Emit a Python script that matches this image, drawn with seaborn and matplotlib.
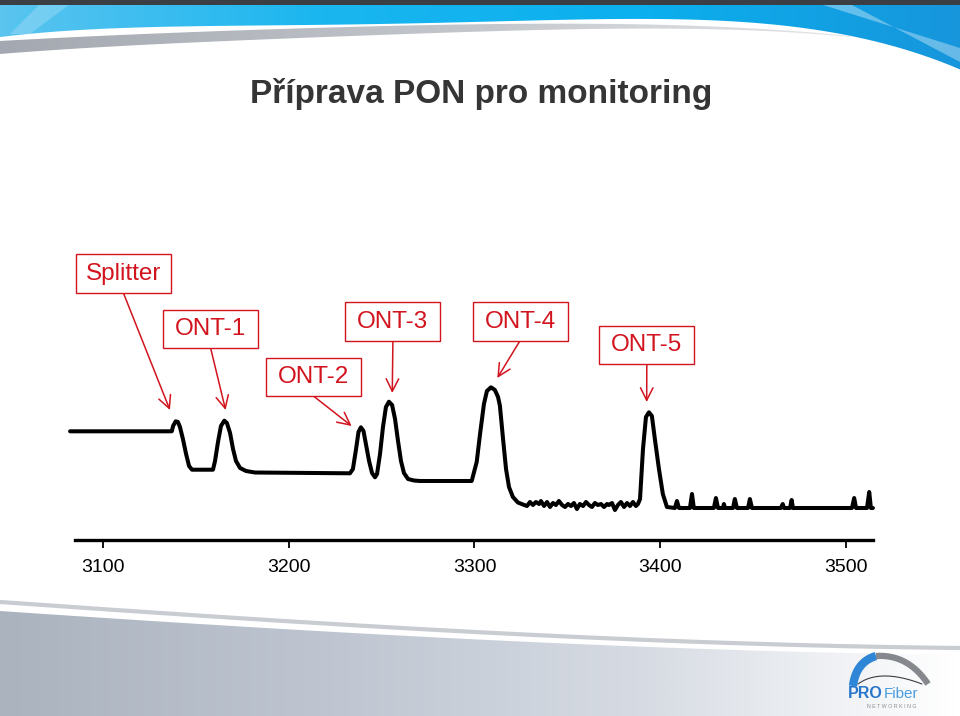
import numpy as np
import pandas as pd
import matplotlib
matplotlib.use("Agg")
import matplotlib.pyplot as plt
import seaborn as sns
from matplotlib.patches import Rectangle, Polygon
from matplotlib.colors import LinearSegmentedColormap

# OTDR trace: distance [m] vs relative level [dB]
distance = [3082.1, 3136.9, 3137.6, 3139.0, 3140.2, 3141.3, 3142.9, 3144.6, 3146.2, 3147.8,
            3159.1, 3160.2, 3161.8, 3163.4, 3165.2, 3166.6, 3168.3, 3169.9, 3171.5, 3173.7,
            3176.9, 3181.7, 3232.9, 3234.5, 3236.2, 3237.5, 3238.8, 3240.2, 3241.5, 3243.2,
            3244.8, 3246.4, 3247.5, 3249.1, 3250.7, 3252.3, 3253.9, 3255.6, 3257.2, 3258.8,
            3260.4, 3262.0, 3264.2, 3267.4, 3270.6, 3298.5, 3301.2, 3303.0, 3305.1, 3306.7,
            3308.9, 3311.0, 3312.7, 3313.7, 3315.4, 3317.0, 3318.6, 3320.7, 3323.4, 3326.1,
            3328.3, 3329.9, 3331.5, 3333.1, 3334.8, 3335.8, 3337.5, 3339.1, 3340.7, 3342.3,
            3343.9, 3345.5, 3347.2, 3348.8, 3350.4, 3352.0, 3353.6, 3355.2, 3356.8, 3358.5,
            3360.1, 3361.7, 3363.3, 3364.9, 3366.5, 3368.2, 3369.8, 3371.4, 3372.5, 3374.1,
            3375.7, 3377.3, 3378.9, 3380.6, 3382.2, 3383.8, 3385.4, 3387.0, 3388.1,
            3389.2, 3390.8, 3392.4, 3394.0, 3395.6, 3397.2, 3399.4, 3401.5, 3403.7,
            3408.0, 3409.1, 3410.2, 3416.1, 3417.2, 3418.2, 3429.0, 3430.1, 3431.2,
            3433.9, 3434.4, 3435.0, 3439.3, 3440.3, 3441.4, 3447.4, 3448.4, 3449.5,
            3465.1, 3466.1, 3466.8, 3470.0, 3470.9, 3471.6, 3503.4, 3504.6, 3505.6,
            3511.5, 3512.7, 3513.6, 3514.7]
level = [10.87, 10.87, 11.4, 11.87, 11.8, 11.3, 10.1, 8.6, 7.4, 7.03,
         7.03, 7.9, 9.8, 11.4, 11.93, 11.7, 10.7, 9.1, 7.9, 7.2,
         6.9, 6.75, 6.67, 7.1, 9.1, 10.8, 11.27, 10.9, 9.6, 7.9,
         6.7, 6.27, 6.6, 8.6, 11.3, 13.3, 13.83, 13.5, 12.1, 9.9,
         7.9, 6.7, 6.1, 5.95, 5.9, 5.9, 7.8, 10.6, 13.6, 14.9,
         15.27, 15.0, 14.3, 13.43, 10.1, 7.1, 5.3, 4.3, 3.75, 3.55,
         3.4, 3.8, 3.5, 3.8, 3.6, 3.9, 3.4, 3.8, 3.3, 3.7,
         3.5, 3.9, 3.5, 3.3, 3.6, 3.4, 3.7, 3.1, 3.6, 3.4,
         3.8, 3.5, 3.3, 3.7, 3.5, 3.6, 3.3, 3.6, 3.5, 3.7,
         3.0, 3.5, 3.8, 3.3, 3.7, 3.4, 3.8, 3.4, 3.6,
         4.1, 9.1, 12.3, 12.77, 12.4, 10.1, 7.1, 4.6, 3.3,
         3.2, 3.9, 3.2, 3.2, 4.6, 3.2, 3.2, 4.2, 3.2,
         3.2, 3.6, 3.2, 3.2, 4.1, 3.2, 3.2, 4.1, 3.2,
         3.2, 3.6, 3.2, 3.2, 4.0, 3.2, 3.2, 4.2, 3.2,
         3.2, 4.8, 3.2, 3.2]

event_names = ["Splitter", "ONT-1", "ONT-2", "ONT-3", "ONT-4", "ONT-5"]
event_dist = [3135.9, 3165.9, 3233.8, 3255.7, 3312.3, 3392.8]
event_level = [13.0, 13.0, 11.4, 14.7, 16.2, 13.8]

tick_values = [3100, 3200, 3300, 3400, 3500]
title = "Příprava PON pro monitoring"

# label box centres (image pixels, from top-left)
box_centers = [(123.3, 273.5), (210.7, 329.2), (313.5, 376.9),
               (392.9, 321.5), (520.0, 321.5), (646.8, 345.0)]
BOX_W, BOX_H = 95, 38.4
RED = "#d2141e"

sns.set_style("white")
plt.rcParams["font.family"] = ["Liberation Sans", "DejaVu Sans"]

W, H = 960, 716
fig = plt.figure(figsize=(W / 100, H / 100), dpi=100)

# ---- slide background (header / footer swooshes) ----
bg = fig.add_axes([0, 0, 1, 1], zorder=0)
bg.set_xlim(0, W)
bg.set_ylim(H, 0)
bg.axis("off")


def curve(pts, x0=0, x1=W, n=300):
    xs, ys = zip(*pts)
    c = np.polyfit(xs, ys, min(len(xs) - 1, 4))
    xx = np.linspace(x0, x1, n)
    return xx, np.polyval(c, xx)


def bezier(p0, p1, p2, n=60):
    t = np.linspace(0, 1, n)[:, None]
    p0, p1, p2 = map(np.asarray, (p0, p1, p2))
    pts = (1 - t) ** 2 * p0 + 2 * (1 - t) * t * p1 + t ** 2 * p2
    return pts[:, 0], pts[:, 1]


def grad_fill(poly_xy, colors, z):
    cmap = LinearSegmentedColormap.from_list("g", colors)
    patch = Polygon(poly_xy, closed=True, facecolor="none", edgecolor="none")
    bg.add_patch(patch)
    im = bg.imshow(np.linspace(0, 1, 256)[None, :], cmap=cmap, aspect="auto",
                   extent=[0, W, H, 0], zorder=z, interpolation="bilinear")
    im.set_clip_path(patch)


# header
bx, by = curve([(0, 37), (250, 26), (500, 20), (700, 22), (850, 34), (960, 70)])
blue_poly = np.vstack([[[0, 4], [W, 4]], np.column_stack([bx[::-1], by[::-1]])])
grad_fill(blue_poly, ["#5ac4ef", "#1ab6f0", "#0bb0ee", "#1796dc"], 1)
bg.add_patch(Polygon([[820, 4], [850, 4], [960, 62], [960, 48]], closed=True,
                     facecolor="white", alpha=0.35, zorder=2, edgecolor="none"))
bg.add_patch(Polygon([[40, 4], [70, 4], [30, 34], [10, 34]], closed=True,
                     facecolor="white", alpha=0.2, zorder=2, edgecolor="none"))
gx, gy_top = curve([(0, 41), (250, 30), (500, 24), (700, 26), (850, 36)], 0, 850)
_, gy_bot = curve([(0, 54), (250, 40), (500, 31), (700, 29), (850, 37)], 0, 850)
gray_poly = np.vstack([np.column_stack([gx, gy_top]), np.column_stack([gx[::-1], gy_bot[::-1]])])
grad_fill(gray_poly, ["#a4a9b1", "#c4c7cc", "#eceef0"], 1)
bg.add_patch(Rectangle((0, 0), W, 5, facecolor="#3b3f44", edgecolor="none", zorder=3))

# footer
sx, sy = curve([(0, 602), (300, 622), (600, 638), (960, 648)])
bg.plot(sx, sy, color="#c9ccd1", lw=3, zorder=1, solid_capstyle="butt")
fx, fy = curve([(0, 611), (300, 630), (600, 645), (960, 655)])
foot_poly = np.vstack([np.column_stack([fx, fy]), [[W, H], [0, H]]])
grad_fill(foot_poly, ["#abb3bf", "#bec5d0", "#d6dbe3", "#ffffff"], 1)

# logo
lx, ly = bezier((853, 686), (856, 662), (876, 656))
bg.plot(lx, ly, color="#2f86d6", lw=6, zorder=4, solid_capstyle="butt")
lx, ly = bezier((876, 656), (908, 654), (928, 684))
bg.plot(lx, ly, color="#85888d", lw=4.5, zorder=4, solid_capstyle="butt")
lx, ly = bezier((858, 684), (880, 668), (922, 684))
bg.plot(lx, ly, color="#3a3d42", lw=0.8, zorder=4)
bg.text(848, 694, "PRO", color="#2a78cc", fontsize=11.5, fontweight="bold",
        va="center", ha="left", zorder=5)
bg.text(884, 694, "Fiber", color="#4a9de0", fontsize=11, va="center", ha="left",
        zorder=5)
bg.text(892, 706, "N E T W O R K I N G", color="#8a8d92", fontsize=3.8,
        va="center", ha="center", zorder=5)

# title
fig.text(481 / W, 1 - 103 / H, title, ha="center", va="baseline", fontsize=24,
         fontweight="bold", color="#353535")

# ---- OTDR trace ----
ax = fig.add_axes([75 / W, (H - 540) / H, (873.3 - 75) / W, (540 - 380) / H], zorder=2)
ax.patch.set_alpha(0)
df = pd.DataFrame({"distance": distance, "level": level})
sns.lineplot(data=df, x="distance", y="level", ax=ax, color="black", lw=2.9,
             estimator=None, sort=False)
for ln in ax.lines:
    ln.set_clip_on(False)
    ln.set_solid_joinstyle("round")
ax.set_xlim(3084.75, 3514.9)
ax.set_ylim(0, 16)
ax.set_xticks(tick_values)
ax.set_yticks([])
ax.set_xlabel("")
ax.set_ylabel("")
for s in ["top", "left", "right"]:
    ax.spines[s].set_visible(False)
ax.spines["bottom"].set_linewidth(2.4)
ax.spines["bottom"].set_color("black")
ax.tick_params(axis="x", direction="out", length=6, width=1.3, pad=8,
               labelsize=14, colors="black", bottom=True)

# ---- event labels with arrows ----
for name, d, lv, (cx, cy) in zip(event_names, event_dist, event_level, box_centers):
    fig.patches.append(Rectangle(((cx - BOX_W / 2) / W, 1 - (cy + BOX_H / 2) / H),
                                 BOX_W / W, BOX_H / H, transform=fig.transFigure,
                                 facecolor="white", edgecolor=RED, lw=1.0, zorder=3))
    fig.text(cx / W, 1 - cy / H, name, ha="center", va="center", fontsize=17.5,
             color=RED, zorder=4)
    ax.annotate("", xy=(d, lv), xycoords="data",
                xytext=(cx / W, 1 - (cy + BOX_H / 2) / H), textcoords="figure fraction",
                arrowprops=dict(arrowstyle="->,head_length=0.5,head_width=0.25",
                                color=RED, lw=1.1, shrinkA=0, shrinkB=0,
                                mutation_scale=18),
                annotation_clip=False)

fig.savefig("out.png", dpi=100)
